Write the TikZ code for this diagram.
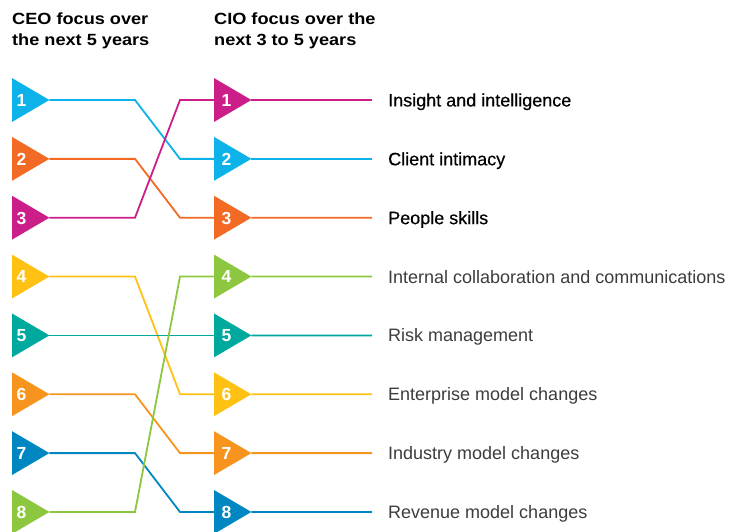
\documentclass[tikz,border=0pt]{standalone}
\usepackage{fontspec}
\setmainfont{Liberation Sans}
\newfontfamily\headfont{Liberation Sans Bold}[FakeStretch=1.12]
\newfontfamily\medfont{Liberation Sans}[FakeBold=0.4]
\definecolor{cyanC}{HTML}{0DB2E8}
\definecolor{orangeR}{HTML}{F26A24}
\definecolor{magC}{HTML}{CC1E88}
\definecolor{yelC}{HTML}{FFC214}
\definecolor{tealC}{HTML}{00A99D}
\definecolor{oraC}{HTML}{F7941E}
\definecolor{blueC}{HTML}{0087C2}
\definecolor{greenC}{HTML}{8DC63F}
\definecolor{txtgray}{HTML}{3C3C3C}
\begin{document}
\begin{tikzpicture}[x=1pt,y=-1pt,
  tribox/.style={minimum width=37pt,minimum height=43.5pt,inner sep=0pt,anchor=west,draw=none},
  num/.style={text=white,font=\bfseries\fontsize{17.5}{17.5}\selectfont,inner sep=0pt,text height=12.6pt,text depth=0pt,anchor=center},
  conn/.style={line width=1.8pt},
  lab/.style={anchor=west,inner sep=0pt,text height=12.9pt,text depth=0pt,font=\fontsize{18}{18}\selectfont},
  labstrong/.style={lab,text=black,font=\medfont\fontsize{18}{18}\selectfont},
  labweak/.style={lab,text=txtgray},
  head/.style={anchor=north west,inner sep=0pt,align=left,font=\headfont\fontsize{16.2}{21}\selectfont,text=black}
]
\useasboundingbox (0,0) rectangle (733,532);

% headers
\node[head] (hceo) at (12,12.5) {CEO focus over\\the next 5 years};
\node[head] (hcio) at (214,12.5) {CIO focus over the\\next 3 to 5 years};

% bend columns
\coordinate (k1) at (135,0);
\coordinate (k2) at (180,0);

% triangle boxes
\foreach \i in {1,...,8}{
  \node[tribox] (L\i) at (12,{100+(\i-1)*58.85}) {};
  \node[tribox] (R\i) at (214,{100+(\i-1)*58.85}) {};
}

% labels
\node[labstrong] (T1) at (388,100) {Insight and intelligence};
\node[labstrong] (T2) at (388,158.85) {Client intimacy};
\node[labstrong] (T3) at (388,217.7) {People skills};
\node[labweak] (T4) at (388,276.55) {Internal collaboration and communications};
\node[labweak] (T5) at (388,335.4) {Risk management};
\node[labweak] (T6) at (388,394.25) {Enterprise model changes};
\node[labweak] (T7) at (388,453.1) {Industry model changes};
\node[labweak] (T8) at (388,511.95) {Revenue model changes};

% connectors left -> right
\foreach \a/\b/\c in {1/2/cyanC,2/3/orangeR,3/1/magC,4/6/yelC,5/5/tealC,6/7/oraC,7/8/blueC,8/4/greenC}{
  \draw[conn,\c] (L\a.east) -- (L\a.east -| k1) -- (R\b.west -| k2) -- (R\b.west);
}

% connectors right -> labels
\foreach \b/\c in {1/magC,2/cyanC,3/orangeR,4/greenC,5/tealC,6/yelC,7/oraC,8/blueC}{
  \draw[conn,\c,shorten >=16pt] (R\b.east) -- (T\b.west);
}

% triangles and numbers (left)
\foreach \i/\c in {1/cyanC,2/orangeR,3/magC,4/yelC,5/tealC,6/oraC,7/blueC,8/greenC}{
  \fill[\c] (L\i.north west) -- (L\i.east) -- (L\i.south west) -- cycle;
  \node[num] (nL\i) at ([xshift=9.5pt]L\i.west) {\i};
}
% triangles and numbers (right)
\foreach \i/\c in {1/magC,2/cyanC,3/orangeR,4/greenC,5/tealC,6/yelC,7/oraC,8/blueC}{
  \fill[\c] (R\i.north west) -- (R\i.east) -- (R\i.south west) -- cycle;
  \node[num] (nR\i) at ([xshift=12.5pt]R\i.west) {\i};
}
\end{tikzpicture}
\end{document}
